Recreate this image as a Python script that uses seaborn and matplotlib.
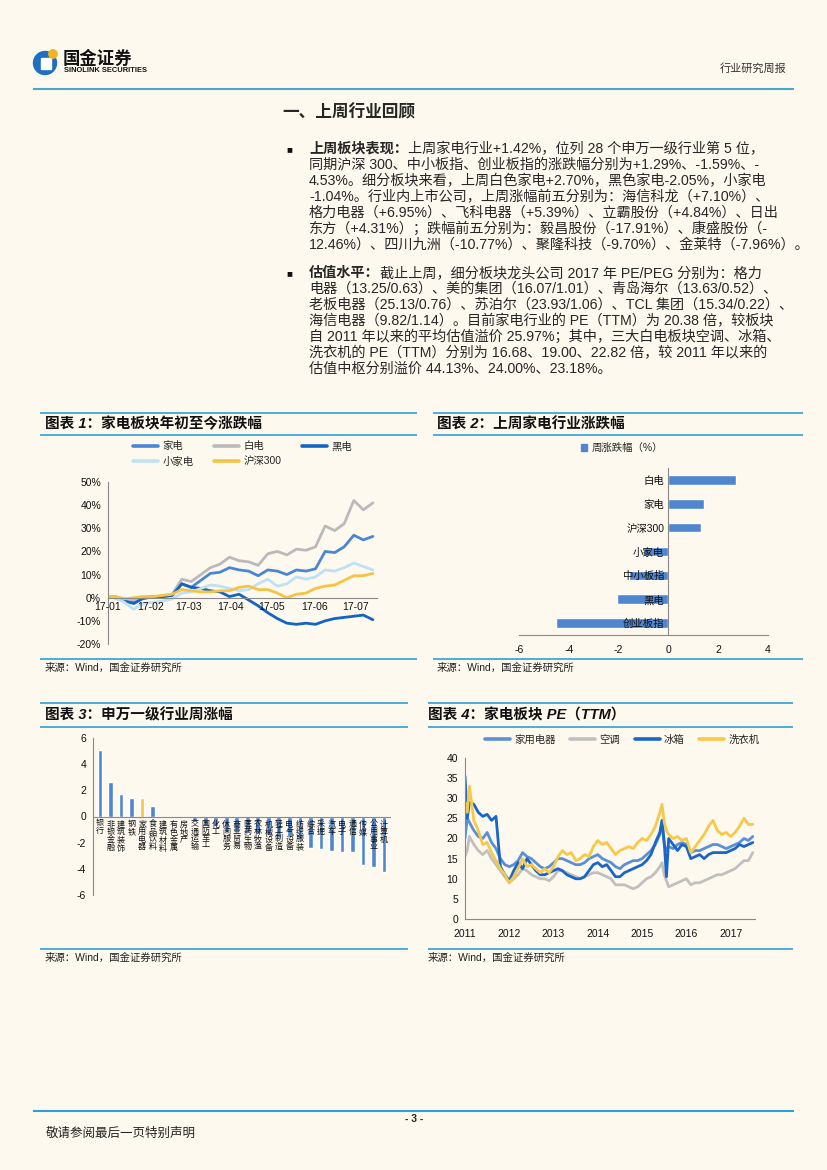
import numpy as np
import pandas as pd
import matplotlib
matplotlib.use('Agg')
import matplotlib.pyplot as plt
import matplotlib.dates as mdates
import seaborn as sns
from matplotlib.patches import Rectangle, Circle, Patch
from matplotlib.lines import Line2D

# ---------------- data ----------------
c1_dates = ['2017-01-03', '2017-01-06', '2017-01-13', '2017-01-20', '2017-01-26', '2017-02-03',
            '2017-02-10', '2017-02-17', '2017-02-24', '2017-03-03', '2017-03-10', '2017-03-17',
            '2017-03-24', '2017-03-31', '2017-04-07', '2017-04-14', '2017-04-21', '2017-04-28',
            '2017-05-05', '2017-05-12', '2017-05-19', '2017-05-26', '2017-06-02', '2017-06-09',
            '2017-06-16', '2017-06-23', '2017-06-30', '2017-07-07', '2017-07-14']
c1_jd = [0.5, 0.5, -1.0, -2.0, 0.0, 0.5, 0.5, 1.0, 6.0, 4.5, 7.5, 10.5, 11.0, 13.0, 12.0, 11.5, 9.5,
         12.0, 11.5, 10.0, 12.0, 11.5, 12.5, 20.0, 19.5, 22.0, 27.0, 25.0, 26.5]
c1_bd = [0.5, 0.5, -0.5, -1.0, 0.0, 0.5, 0.5, 1.5, 8.0, 7.0, 10.0, 13.0, 14.5, 17.5, 16.0, 15.5, 14.0,
         19.0, 20.0, 18.5, 21.0, 20.5, 22.0, 31.0, 29.0, 32.0, 42.0, 38.0, 41.0]
c1_hd = [0.5, 0.0, -1.5, -2.5, -0.5, 0.5, 0.5, 1.0, 6.0, 4.5, 4.0, 3.0, 2.5, 0.5, 1.5, -1.0, -3.5,
         -6.5, -9.0, -11.0, -11.5, -11.0, -11.5, -10.0, -9.0, -8.5, -8.0, -7.5, -9.5]
c1_xjd = [0.5, 0.0, -2.0, -5.0, -2.5, -2.0, -1.5, -0.5, 2.0, 2.5, 4.0, 5.5, 5.0, 4.0, 3.0, 3.5, 6.0,
          8.0, 5.0, 6.0, 9.0, 8.0, 9.0, 12.0, 11.5, 13.0, 15.0, 13.5, 12.0]
c1_hs = [0.5, 0.5, -0.5, 0.0, 0.5, 0.5, 1.0, 1.5, 3.5, 3.0, 2.5, 2.5, 3.0, 3.0, 4.5, 5.0, 3.5, 3.5,
         2.0, 0.0, 1.5, 2.0, 4.0, 5.0, 5.5, 7.5, 9.5, 9.5, 10.5]
c1_series = ['家电', '白电', '黑电', '小家电', '沪深300']
c1_yticks = [-20, -10, 0, 10, 20, 30, 40, 50]

c2_cats = ['白电', '家电', '沪深300', '小家电', '中小板指', '黑电', '创业板指']
c2_vals = [2.70, 1.42, 1.29, -1.04, -1.59, -2.05, -4.53]
c2_xticks = [-6, -4, -2, 0, 2, 4]

c3_inds = ['银行', '非银金融', '建筑装饰', '钢铁', '家用电器', '食品饮料', '建筑材料', '有色金属',
           '房地产', '交通运输', '国防军工', '化工', '休闲服务', '商业贸易', '医药生物', '农林牧渔',
           '机械设备', '轻工制造', '电气设备', '纺织服装', '综合', '采掘', '汽车', '电子', '通信',
           '传媒', '公用事业', '计算机']
c3_vals = [5.1, 2.6, 1.7, 1.43, 1.42, 0.78, -0.05, -0.1, -0.15, -0.4, -0.65, -0.7, -1.15, -1.18,
           -1.25, -1.35, -1.45, -1.55, -1.6, -1.7, -2.4, -2.45, -2.65, -2.7, -2.72, -3.72, -3.88, -4.22]
c3_yticks = [-6, -4, -2, 0, 2, 4, 6]

c4_years = [2011.0, 2011.05, 2011.1, 2011.2, 2011.3, 2011.4, 2011.5, 2011.6, 2011.7, 2011.8, 2011.9,
            2012.0, 2012.1, 2012.2, 2012.3, 2012.4, 2012.5, 2012.6, 2012.7, 2012.8, 2012.9,
            2013.0, 2013.1, 2013.2, 2013.3, 2013.4, 2013.5, 2013.6, 2013.7, 2013.8, 2013.9,
            2014.0, 2014.1, 2014.2, 2014.3, 2014.4, 2014.5, 2014.6, 2014.7, 2014.8, 2014.9,
            2015.0, 2015.1, 2015.2, 2015.3, 2015.4, 2015.45, 2015.5, 2015.55, 2015.6, 2015.7, 2015.8, 2015.9,
            2016.0, 2016.1, 2016.2, 2016.3, 2016.4, 2016.5, 2016.6, 2016.7, 2016.8, 2016.9,
            2017.0, 2017.1, 2017.2, 2017.3, 2017.4, 2017.5]
c4_jy = [20, 25, 24, 22, 20.5, 20, 21.5, 19, 17.5, 15, 13.5,
         13, 13.5, 14.5, 16.5, 15.5, 15, 14, 13, 12.5, 13,
         14, 15, 15, 14.5, 14, 13.5, 13.5, 14, 15, 15.5,
         16, 15, 14.5, 14, 13, 12.5, 13.5, 14, 14.5, 14.5,
         15, 16, 17, 18.5, 21, 24, 18.5, 17, 18, 17.5, 18.5, 19,
         18.5, 16.5, 17, 17, 17.5, 18, 18.5, 18.5, 18, 17.5,
         18, 18.5, 19, 20, 19.5, 20.5]
c4_kt = [15.5, 17, 20.5, 18.5, 17, 16, 17, 15, 13.5, 12, 10.5,
         9, 10, 11, 12.5, 12, 11, 10.5, 10, 10, 9.5,
         10.5, 12, 12, 11.5, 11, 10.5, 10, 10.5, 11, 11.5,
         11.5, 11, 10.5, 10, 8.5, 8.5, 8.5, 8, 7.5, 8,
         9, 10, 10.5, 11.5, 13, 14, 11, 9.5, 8, 8.5, 9, 9.5,
         10, 8.5, 9, 9, 9.5, 10, 10.5, 11, 11, 11.5,
         12, 12.5, 13.5, 14.5, 14.5, 16.5]
c4_bx = [35.5, 25, 29, 28.5, 26.5, 25.5, 26, 24.5, 25.5, 13, 11,
         9.5, 12, 14, 12.5, 15, 13.5, 12, 11, 11, 11.5,
         12, 12.5, 12, 11, 10.5, 10, 10, 10.5, 12, 13.5,
         14, 13, 13.5, 12, 10.5, 10.5, 11.5, 12, 12.5, 13,
         13.5, 14.5, 16, 19, 21.5, 24.5, 19, 10.5, 20, 18.5, 17, 18.5,
         18, 15, 15.5, 16, 15, 16, 16.5, 16.5, 16.5, 16.5,
         17, 17.5, 18.5, 18, 18.5, 19]
c4_xy = [29, 26.5, 33, 24.5, 22, 18.5, 19, 16.5, 14.5, 12.5, 11,
         9, 10.5, 12.5, 15, 13, 13.5, 12.5, 11.5, 12.5, 11.5,
         13, 15.5, 17, 16, 16.5, 14.5, 15, 16, 15.5, 18,
         19.5, 18.5, 19, 17.5, 16, 17, 17.5, 18, 17.5, 19,
         20, 19.5, 21, 23, 26.5, 28.5, 24, 22, 21, 20, 20.5, 19.5,
         20, 16.5, 18, 19.5, 21, 23, 24.5, 22, 21, 21.5,
         20.5, 21.5, 23, 25, 23.5, 23.5]
c4_series = ['家用电器', '空调', '冰箱', '洗衣机']
c4_xticks = [2011, 2012, 2013, 2014, 2015, 2016, 2017]
c4_yticks = [0, 5, 10, 15, 20, 25, 30, 35, 40]

# ---------------- style ----------------
sns.set_theme(style='white')
FONT = ['Liberation Sans', 'Noto Sans CJK SC', 'DejaVu Sans']
plt.rcParams['font.family'] = FONT
plt.rcParams['axes.unicode_minus'] = False

BG = '#fdf9ee'
LINEC = '#2f9fd8'
BLUE = '#4f86cf'
AXC = '#8a8a8a'
W, H = 827, 1170

fig = plt.figure(figsize=(8.27, 11.70), dpi=100, facecolor=BG)

bg = fig.add_axes([0, 0, 1, 1])
bg.set_xlim(0, W)
bg.set_ylim(H, 0)
bg.axis('off')
bg.set_facecolor('none')


def ax_rect(left, top, width, height):
    return [left / W, 1 - (top + height) / H, width / W, height / H]


def hline(y, x0, x1, color=LINEC, lw=1.2):
    bg.plot([x0, x1], [y, y], color=color, lw=lw, solid_capstyle='butt')


def style_axes(ax):
    ax.set_facecolor('none')
    ax.set_axisbelow(False)
    for s in ['top', 'right']:
        ax.spines[s].set_visible(False)
    for s in ['left', 'bottom']:
        ax.spines[s].set_color(AXC)
        ax.spines[s].set_linewidth(0.8)
    ax.tick_params(axis='both', length=3, width=0.8, color=AXC, labelsize=7.5,
                   labelcolor='#111111', direction='out', pad=2)
    ax.set_xlabel('')
    ax.set_ylabel('')


# ---------------- header ----------------
bg.add_patch(Circle((45, 63), 11.5, color='#1f6fc2', zorder=3))
bg.add_patch(Rectangle((41, 58), 10, 11, color='white', zorder=4))
bg.add_patch(Circle((53, 54), 4.2, color='#f2b51f', zorder=5))
bg.text(63, 58.5, '国金证券', fontsize=12.5, fontweight='bold', va='center', ha='left', color='#111111')
bg.text(64, 70.5, 'SINOLINK SECURITIES', fontsize=5.4, fontweight='bold', va='center', ha='left',
        color='#111111')
bg.text(786, 68, '行业研究周报', fontsize=8, va='center', ha='right', color='#333333')
hline(89, 33, 794, color='#4aa8c8', lw=1.5)

# ---------------- body text ----------------
bg.text(282, 112, '一、上周行业回顾', fontsize=12, fontweight='bold', va='center', ha='left')

renderer = fig.canvas.get_renderer()
BODY = 10.2


def paragraph(y0, dy, bold, lines):
    bg.text(289, y0, '■', fontsize=7, va='center', ha='center', color='#111111')
    t = bg.text(309, y0, bold, fontsize=BODY, fontweight='bold', va='center', ha='left')
    wb = t.get_window_extent(renderer).width
    bg.text(309 + wb, y0, lines[0], fontsize=BODY, va='center', ha='left')
    for i, s in enumerate(lines[1:], start=1):
        bg.text(309, y0 + dy * i, s, fontsize=BODY, va='center', ha='left')


paragraph(149, 15.9, '上周板块表现：', [
    '上周家电行业+1.42%，位列 28 个申万一级行业第 5 位，',
    '同期沪深 300、中小板指、创业板指的涨跌幅分别为+1.29%、-1.59%、-',
    '4.53%。细分板块来看，上周白色家电+2.70%，黑色家电-2.05%，小家电',
    '-1.04%。行业内上市公司，上周涨幅前五分别为：海信科龙（+7.10%）、',
    '格力电器（+6.95%）、飞科电器（+5.39%）、立霸股份（+4.84%）、日出',
    '东方（+4.31%）；跌幅前五分别为：毅昌股份（-17.91%）、康盛股份（-',
    '12.46%）、四川九洲（-10.77%）、聚隆科技（-9.70%）、金莱特（-7.96%）。',
])
paragraph(273, 16.0, '估值水平：', [
    '截止上周，细分板块龙头公司 2017 年 PE/PEG 分别为：格力',
    '电器（13.25/0.63）、美的集团（16.07/1.01）、青岛海尔（13.63/0.52）、',
    '老板电器（25.13/0.76）、苏泊尔（23.93/1.06）、TCL 集团（15.34/0.22）、',
    '海信电器（9.82/1.14）。目前家电行业的 PE（TTM）为 20.38 倍，较板块',
    '自 2011 年以来的平均估值溢价 25.97%；其中，三大白电板块空调、冰箱、',
    '洗衣机的 PE（TTM）分别为 16.68、19.00、22.82 倍，较 2011 年以来的',
    '估值中枢分别溢价 44.13%、24.00%、23.18%。',
])

# ---------------- chart frames ----------------
def frame(x0, x1, ytop, ymid, ybot, title, tx):
    hline(ytop, x0, x1)
    hline(ymid, x0, x1)
    hline(ybot, x0, x1)
    bg.text(tx, (ytop + ymid) / 2 + 0.5, title, fontsize=10.5, fontweight='bold', style='italic',
            va='center', ha='left', color='#111111')
    bg.text(tx, ybot + 9, '来源：Wind，国金证券研究所', fontsize=7.5, va='center', ha='left',
            color='#222222')


frame(40, 417, 413, 435, 659, '图表 1：家电板块年初至今涨跌幅', 45)
frame(433, 803, 413, 435, 659, '图表 2：上周家电行业涨跌幅', 437)
frame(40, 408, 703, 727, 949, '图表 3：申万一级行业周涨幅', 45)
frame(428, 793, 703, 727, 949, '图表 4：家电板块 PE（TTM）', 428)

# ---------------- chart 1 ----------------
pal1 = {'家电': '#4a86d4', '白电': '#bababa', '黑电': '#1464c4', '小家电': '#bfe1f6', '沪深300': '#f6c445'}
df1 = pd.DataFrame({'date': pd.to_datetime(c1_dates), '家电': c1_jd, '白电': c1_bd, '黑电': c1_hd,
                    '小家电': c1_xjd, '沪深300': c1_hs})
df1 = df1.melt(id_vars='date', var_name='series', value_name='value')
ax1 = fig.add_axes(ax_rect(108, 482, 269, 162))
sns.lineplot(data=df1, x='date', y='value', hue='series', hue_order=c1_series, palette=pal1,
             linewidth=2.0, legend=False, ax=ax1)
style_axes(ax1)
ax1.set_xlim(pd.Timestamp('2017-01-01'), pd.Timestamp('2017-07-17'))
ax1.set_ylim(-20, 50)
ax1.set_yticks(c1_yticks)
ax1.set_yticklabels([f'{v}%' for v in c1_yticks])
ax1.spines['bottom'].set_position(('data', 0))
ax1.xaxis.set_major_locator(mdates.MonthLocator())
ax1.xaxis.set_major_formatter(mdates.DateFormatter('%y-%m'))
ax1.tick_params(axis='x', direction='inout', length=4, pad=1)

order1 = ['家电', '小家电', '白电', '沪深300', '黑电']
h1 = [Line2D([], [], color=pal1[k], lw=2.6) for k in order1]
fig.legend(h1, order1, ncol=3, loc='upper left', bbox_to_anchor=(133 / W, 1 - 441 / H),
           frameon=False, fontsize=7.5, handlelength=2.4, handletextpad=0.4, columnspacing=2.0,
           labelspacing=0.5, borderpad=0, borderaxespad=0)

# ---------------- chart 2 ----------------
df2 = pd.DataFrame({'cat': c2_cats, 'val': c2_vals})
ax2 = fig.add_axes(ax_rect(519, 468, 249, 167))
sns.barplot(data=df2, x='val', y='cat', orient='h', color=BLUE, saturation=1, width=0.4, ax=ax2)
style_axes(ax2)
ax2.set_xlim(-6, 4)
ax2.set_xticks(c2_xticks)
ax2.set_xticklabels([str(v) for v in c2_xticks])
ax2.spines['left'].set_position(('data', 0))
ax2.tick_params(axis='y', length=0, labelsize=7.5, pad=3)
ax2.set_yticks(np.arange(-0.5, len(c2_cats), 1), minor=True)
ax2.tick_params(axis='y', which='minor', length=3, color=AXC)
ax2.tick_params(axis='x', pad=4)
fig.legend([Patch(color=BLUE)], ['周涨跌幅（%）'], loc='center', bbox_to_anchor=(622 / W, 1 - 448 / H),
           frameon=False, fontsize=7.5, handlelength=0.6, handleheight=0.6, handletextpad=0.4,
           borderpad=0)

# ---------------- chart 3 ----------------
df3 = pd.DataFrame({'ind': c3_inds, 'val': c3_vals})
pal3 = {k: ('#f6c445' if k == '家用电器' else BLUE) for k in c3_inds}
ax3 = fig.add_axes(ax_rect(93, 738, 297, 157))
sns.barplot(data=df3, x='ind', y='val', hue='ind', palette=pal3, saturation=1, width=0.45,
            legend=False, ax=ax3)
style_axes(ax3)
ax3.set_ylim(-6, 6)
ax3.set_yticks(c3_yticks)
ax3.set_yticklabels([str(v) for v in c3_yticks])
ax3.set_xlim(-0.67, len(c3_inds) - 0.43)
ax3.spines['bottom'].set_position(('data', 0))
ax3.set_xticks(range(len(c3_inds)))
ax3.set_xticklabels(['\n'.join(s) for s in c3_inds], fontsize=5.8, linespacing=1.0)
ax3.tick_params(axis='x', length=0, pad=3)
ax3.set_xticks(np.arange(-0.5, len(c3_inds), 1), minor=True)
ax3.tick_params(axis='x', which='minor', length=2, color=AXC)

# ---------------- chart 4 ----------------
pal4 = {'家用电器': '#5a90d8', '空调': '#c0c0c0', '冰箱': '#1a66c8', '洗衣机': '#f8c84a'}
df4 = pd.DataFrame({'year': c4_years, '家用电器': c4_jy, '空调': c4_kt, '冰箱': c4_bx, '洗衣机': c4_xy})
df4 = df4.melt(id_vars='year', var_name='series', value_name='value')
ax4 = fig.add_axes(ax_rect(465, 758, 290, 161))
sns.lineplot(data=df4, x='year', y='value', hue='series', hue_order=c4_series, palette=pal4,
             linewidth=2.0, legend=False, ax=ax4)
style_axes(ax4)
ax4.set_xlim(2011, 2017.55)
ax4.set_ylim(0, 40)
ax4.set_xticks(c4_xticks)
ax4.set_xticklabels([str(v) for v in c4_xticks])
ax4.set_yticks(c4_yticks)
ax4.set_yticklabels([str(v) for v in c4_yticks])
ax4.tick_params(axis='x', pad=4)
h4 = [Line2D([], [], color=pal4[k], lw=2.6) for k in c4_series]
fig.legend(h4, c4_series, ncol=4, loc='center left', bbox_to_anchor=(485 / W, 1 - 740 / H),
           frameon=False, fontsize=7.5, handlelength=2.4, handletextpad=0.4, columnspacing=1.4,
           borderpad=0, borderaxespad=0)

# ---------------- footer ----------------
hline(1110.5, 33, 794, color='#2e9fd8', lw=1.5)
bg.text(414, 1119, '- 3 -', fontsize=7.5, fontweight='bold', va='center', ha='center')
bg.text(46, 1134, '敬请参阅最后一页特别声明', fontsize=9, va='center', ha='left', color='#222222')

fig.savefig('out.png', dpi=100, facecolor=BG)
